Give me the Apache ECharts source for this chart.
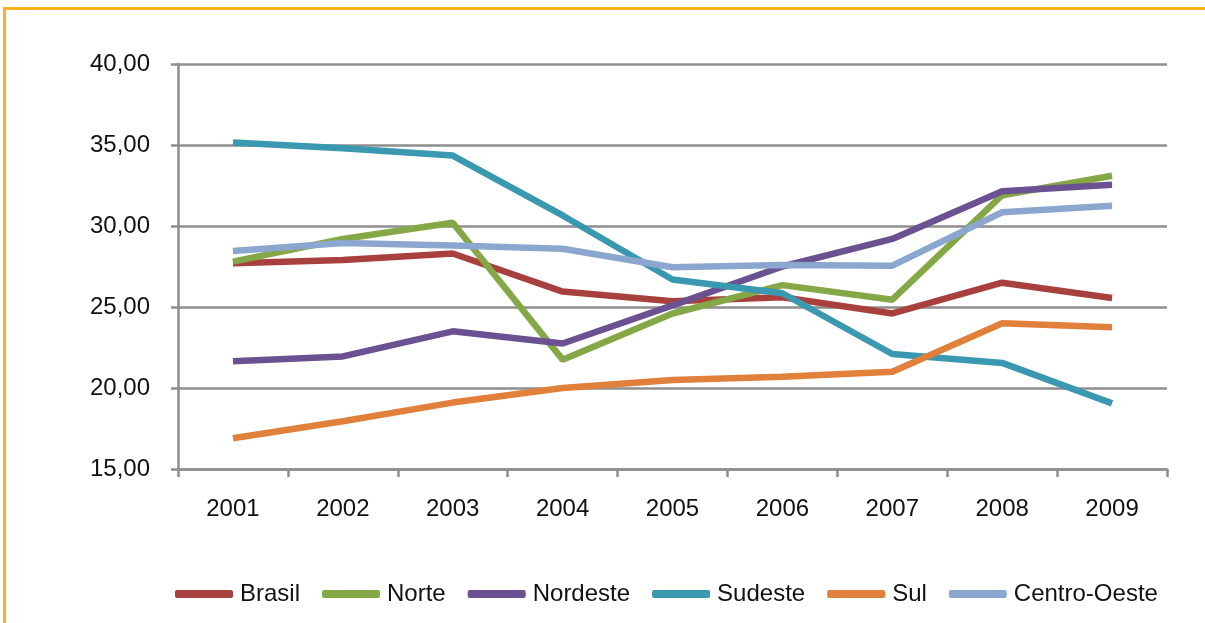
<!DOCTYPE html>
<html>
<head>
<meta charset="utf-8">
<script src="https://cdn.jsdelivr.net/npm/echarts@6/dist/echarts.min.js"></script>
<style>
  html, body { margin: 0; padding: 0; background: #fff; }
  #frame { position: absolute; left: 3px; top: 7px; width: 1202px; height: 616px;
           border-top: 3px solid #f7b21e; border-left: 3px solid #f7b21e; }
  #main { position: absolute; left: 0; top: 0; width: 1205px; height: 623px; }
</style>
</head>
<body>
<div id="frame"></div>
<div id="main"></div>
<script>
var years = ['2001', '2002', '2003', '2004', '2005', '2006', '2007', '2008', '2009']
var brasil = [27.7, 27.9, 28.3, 25.95, 25.35, 25.6, 24.6, 26.5, 25.55]
var norte = [27.8, 29.2, 30.2, 21.75, 24.6, 26.35, 25.45, 31.9, 33.1]
var nordeste = [21.65, 21.95, 23.5, 22.75, 25.1, 27.5, 29.2, 32.15, 32.55]
var sudeste = [35.15, 34.8, 34.35, 30.65, 26.7, 25.85, 22.1, 21.55, 19.05]
var sul = [16.9, 17.95, 19.1, 20.0, 20.5, 20.7, 21.0, 24.0, 23.75]
var centroOeste = [28.45, 28.95, 28.8, 28.6, 27.45, 27.6, 27.55, 30.85, 31.25]

var names = ['Brasil', 'Norte', 'Nordeste', 'Sudeste', 'Sul', 'Centro-Oeste']
var values = [brasil, norte, nordeste, sudeste, sul, centroOeste]
var colors = ['#a8413e', '#84a846', '#6b5192', '#3a98b0', '#e0803a', '#8ca7cf']

var font = 'Liberation Sans'
var gray = '#8e8e8e'

var myChart = echarts.init(document.getElementById('main'), null, { renderer: 'canvas' })
var option = {
  animation: false,
  color: colors,
  grid: { left: 178, right: 38, top: 64, bottom: 154 },
  legend: {
    data: names,
    left: 170,
    top: 577,
    icon: 'roundRect',
    itemWidth: 58,
    itemHeight: 8,
    itemGap: 22,
    textStyle: { fontFamily: font, fontSize: 24, color: '#111', padding: [0, 0, 0, 2] }
  },
  xAxis: {
    type: 'category',
    data: years,
    axisLine: { lineStyle: { color: gray, width: 2.5 } },
    axisTick: { show: true, length: 8, lineStyle: { color: gray, width: 2.5 } },
    axisLabel: { fontFamily: font, fontSize: 24, color: '#111', margin: 28 }
  },
  yAxis: {
    type: 'value',
    min: 15,
    max: 40,
    interval: 5,
    axisLine: { show: true, lineStyle: { color: gray, width: 2.5 } },
    axisTick: { show: true, length: 7, lineStyle: { color: gray, width: 2.5 } },
    splitLine: { lineStyle: { color: gray, width: 2.5 } },
    axisLabel: {
      fontFamily: font, fontSize: 24, color: '#111', margin: 28,
      formatter: function (v) { return v.toFixed(2).replace('.', ',') }
    }
  },
  series: names.map(function (n, i) {
    return {
      name: n,
      type: 'line',
      data: values[i],
      symbol: 'none',
      lineStyle: { width: 6.5, color: colors[i] }
    }
  })
}

myChart.setOption(option)
</script>
</body>
</html>
